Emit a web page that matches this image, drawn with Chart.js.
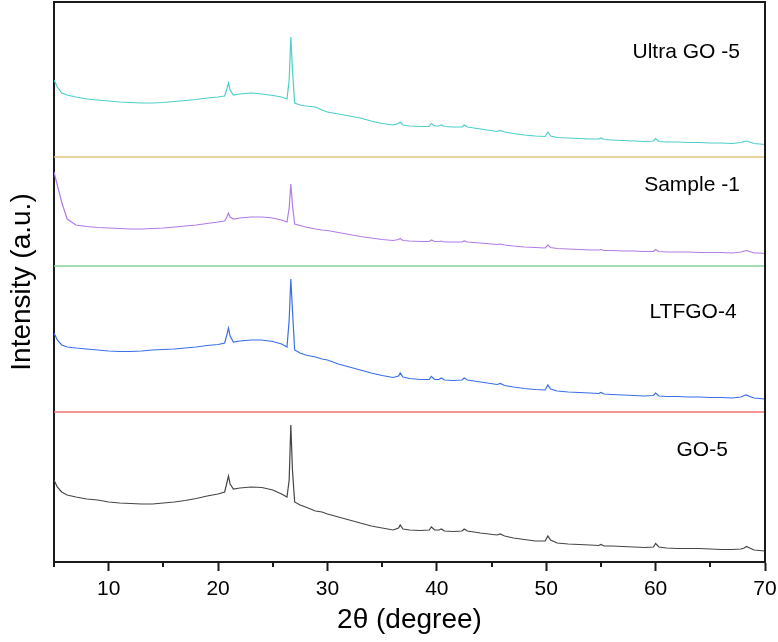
<!DOCTYPE html>
<html><head><meta charset="utf-8">
<script src="https://cdn.jsdelivr.net/npm/chart.js@4.4.0/dist/chart.umd.min.js"></script>
<style>html,body{margin:0;padding:0;background:#fff}#wrap{width:778px;height:642px;position:relative}</style>
</head><body><div id="wrap"><canvas id="c"></canvas></div>
<script>
const twoTheta = [5.0,5.3,5.7,6.2,7,8,9,10,11,12,13,14,15,16,17,18,19,20,20.6,20.8,
20.95,21.1,21.4,22,23,24,25,25.8,26.3,26.5,26.65,26.8,27.0,27.5,28,28.9,29.5,30,31,32,
33,34,35,36,36.5,36.65,36.9,37.5,38.5,39.3,39.5,39.8,40.2,40.4,40.7,41.5,42.3,42.5,42.8,44,
45.5,45.8,46.2,47,48,49,49.9,50.15,50.4,51,52,53,54,54.8,55,55.3,56,57,58,59,
59.8,60.0,60.3,61,62,63,64,65,66,67,67.8,68.1,68.3,68.6,69,69.5,70];

const go5 = [82,75,70,67,65,63,62,60,59,58.5,
58,58,59,60,61.5,63.5,66,68,70,79,
86,78,73,74,75,74.5,72,68,65,82,
137,92,60,57,55,51,50,48,45,42,
39,36,34,32,34,37,33,32,31.5,32,
35,32,32,33,31,30.5,31,33,31,29,
27,28,26,24,22.5,21,21,26,22,19,
18,17.5,17,16.5,17.5,16,16,15.5,15,14.5,
15,18.5,15,14,13.5,13.5,13.5,13,12.5,12.5,
13,14,15.5,14,12,11.5,11];

const ltfgo4 = [229,222,217,215,214,213,212,211,210.5,210.5,
211,212,212.5,213,214,215,216.5,217.5,219,227,
234,226,220,221,222,222,220.5,218,215,242,
283,252,212,209,207,205,203,202,198,195,
192,189,186.5,184.5,186,189,185,183.5,182.5,182.5,
185.5,182.5,182.5,184,182,181.5,182,184,182,180,
177.5,178.5,176.5,175,173.5,172.5,172,177,173,171,
170,169.5,169,168.5,169.5,168,167.5,167,166.5,166,
166.5,169,166,165.5,165.5,165,165,164.5,164.5,164,
165,166.5,167,165.5,164,163.5,163];

const sample1 = [390,377,360,343,337,335.5,334.5,334,333.5,333,
333,333.5,334,335,336,337,338.5,340,341,345,
349,345,343,344,345,345,344,342,340,354,
378,357,338,336.5,335,333,332,331.5,329.5,327.5,
325.5,324,322.5,321.5,322.5,323.5,321.5,321,320.5,320.5,
322,320.5,320.5,321,320,320,320,321,320,319,
317.5,318,317,316,315,314.5,314,317,314.5,313.5,
313,312.5,312,312,312.5,311.5,311.5,311,311,310.5,
310.5,312.5,310.5,310,310,310,309.5,309.5,309.5,309,
310,311,311.5,310.5,309,309,308.5];

const ultraGO5 = [482,475,469,467,465,463,462,461,460,459.5,
459,459,459.5,460.5,461.5,462.5,464,465,466,473,
479,472,467,468,469,468,466.5,465,463,482,
525,492,459,457,456,455,452,450,448,446,
444,441,438.5,437,438.5,440,437,436,435.5,435.5,
438.5,436,436,437,435.5,435,435,437,435,433,
430.5,431.5,430,428.5,427,426,425.5,430,426,424.5,
424,423.5,423,423,424,422.5,422,421.5,421,420.5,
421,423.5,420.5,420,420,419.5,419.5,419,419,418.5,
419.5,420.5,421,420,418.5,418,417.5];

const sampleNames = ['GO-5','LTFGO-4','Sample -1','Ultra GO -5'];
const baselineLevels = [150, 296, 405];
const xTickValues = [10,20,30,40,50,60,70];
const xMinorTickValues = [5,15,25,35,45,55,65];

const FONT = '"Liberation Sans", Arial, sans-serif';
const AXIS = '#1a1a1a';

const seriesColors = ['#454545','#3a6ee8','#b27ce6','#4ccfca'];
const baselineColors = ['#f07575','#84d29a','#e2c47f'];
const labelAnchors = [[66.6,112],[67.4,250],[67.7,377],[67.7,510]];

function pts(arr){ return twoTheta.map((t,i)=>({x:t,y:arr[i]})); }
const seriesData = [go5, ltfgo4, sample1, ultraGO5];

const datasets = [];
baselineLevels.forEach((lv,i)=>{
  datasets.push({label:'base'+i, data:[{x:5,y:lv},{x:70,y:lv}], borderColor:baselineColors[i], borderWidth:1.4, pointRadius:0});
});
seriesData.forEach((arr,i)=>{
  datasets.push({label:sampleNames[i], data:pts(arr), borderColor:seriesColors[i], borderWidth:1.2, pointRadius:0, tension:0});
});

const framePlugin = {
  id:'frame',
  afterDraw(chart){
    const {ctx, chartArea:a, scales:{x}} = chart;
    ctx.save();
    ctx.strokeStyle = AXIS; ctx.lineWidth = 2;
    ctx.beginPath();
    ctx.moveTo(a.left, a.top); ctx.lineTo(a.right, a.top); ctx.lineTo(a.right, a.bottom);
    ctx.stroke();
    ctx.beginPath();
    xMinorTickValues.forEach(v=>{ const px = Math.round(x.getPixelForValue(v)); ctx.moveTo(px, a.bottom); ctx.lineTo(px, a.bottom+5); });
    ctx.stroke();
    ctx.font = '21px ' + FONT; ctx.fillStyle = '#000'; ctx.textAlign = 'right'; ctx.textBaseline = 'middle';
    labelAnchors.forEach((p,i)=>{ ctx.fillText(sampleNames[i], x.getPixelForValue(p[0]), chart.scales.y.getPixelForValue(p[1])); });
    ctx.restore();
  }
};

new Chart(document.getElementById('c'), {
  type:'line',
  data:{datasets},
  options:{
    responsive:true, maintainAspectRatio:false, animation:false, devicePixelRatio:1,
    layout:{padding:{top:2,right:13,left:0,bottom:0}},
    plugins:{legend:{display:false}, tooltip:{enabled:false}},
    scales:{
      x:{type:'linear', min:5, max:70,
        border:{display:true,color:AXIS,width:2},
        grid:{drawOnChartArea:false, drawTicks:true, tickLength:9, tickWidth:2, tickColor:AXIS},
        afterBuildTicks:(s)=>{ s.ticks = xTickValues.map(v=>({value:v})); },
        ticks:{font:{family:FONT,size:21}, color:'#000', padding:6, maxRotation:0, autoSkip:false},
        title:{display:true, text:'2θ (degree)', font:{family:FONT,size:28}, color:'#000', padding:{top:5,bottom:5}},
        afterFit:(s)=>{ s.height = 80; s.paddingLeft = 0; s.paddingRight = 0; }
      },
      y:{min:0, max:560,
        border:{display:true,color:AXIS,width:2},
        grid:{display:false},
        ticks:{display:false},
        title:{display:true, text:'Intensity (a.u.)', font:{family:FONT,size:28}, color:'#000', padding:{top:5,bottom:5}},
        afterFit:(s)=>{ s.width = 54; s.paddingTop = 0; s.paddingBottom = 0; }
      }
    }
  },
  plugins:[framePlugin]
});
</script>
</body></html>
